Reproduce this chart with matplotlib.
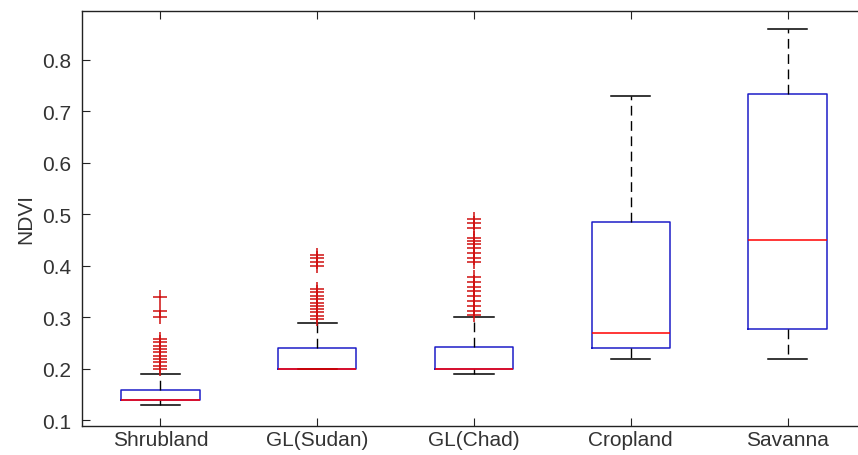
import matplotlib
matplotlib.use("Agg")
import matplotlib.pyplot as plt

plt.rcParams['font.family'] = ['Liberation Sans', 'DejaVu Sans']

classes = ["Shrubland", "GL(Sudan)", "GL(Chad)", "Cropland", "Savanna"]

# box stats
medians = [0.14, 0.20, 0.20, 0.27, 0.45]
q1 = [0.14, 0.20, 0.20, 0.24, 0.278]
q3 = [0.16, 0.24, 0.242, 0.485, 0.733]
whisk_lo = [0.13, 0.20, 0.19, 0.22, 0.22]
whisk_hi = [0.19, 0.29, 0.30, 0.73, 0.86]

fliers_shrub = [0.34, 0.312, 0.30, 0.258, 0.252, 0.245, 0.239, 0.232,
                0.226, 0.219, 0.213, 0.206, 0.20]
fliers_sudan = [0.422, 0.415, 0.408, 0.40, 0.355, 0.349, 0.342, 0.336,
                0.329, 0.323, 0.316, 0.31, 0.303, 0.297]
fliers_chad = [0.492, 0.483, 0.474, 0.455, 0.449, 0.443, 0.434, 0.425,
               0.416, 0.407, 0.378, 0.369, 0.36, 0.351, 0.341, 0.332,
               0.323, 0.313, 0.305]
fliers = [fliers_shrub, fliers_sudan, fliers_chad, [], []]

stats = []
for i, name in enumerate(classes):
    stats.append({
        'label': name, 'med': medians[i], 'q1': q1[i], 'q3': q3[i],
        'whislo': whisk_lo[i], 'whishi': whisk_hi[i], 'fliers': fliers[i],
    })

fig = plt.figure(figsize=(8.58, 4.56), dpi=100)
ax = fig.add_axes([0.0956, 0.0636, 0.9137, 0.9101])

blue = '#1c1cc8'
ax.bxp(stats, widths=0.5, showfliers=True,
       boxprops=dict(color=blue, linewidth=1.1),
       medianprops=dict(color='red', linewidth=1.1),
       whiskerprops=dict(color='black', linewidth=1.0, linestyle=(0, (7, 4))),
       capprops=dict(color='black', linewidth=1.1),
       capwidths=0.25,
       flierprops=dict(marker='+', markeredgecolor='#d01010', markersize=9.5,
                       markeredgewidth=1.1, linestyle='none'))

ax.set_xlim(0.5, 5.5)
ax.set_ylim(0.0893, 0.895)
ax.set_yticks([0.1, 0.2, 0.3, 0.4, 0.5, 0.6, 0.7, 0.8])
ax.set_yticklabels(["0.1", "0.2", "0.3", "0.4", "0.5", "0.6", "0.7", "0.8"])
ax.tick_params(direction='in', length=6, labelsize=15, colors='#222222',
               top=True, right=True, labelcolor='#333333')
ax.tick_params(axis='x', pad=3)
ax.tick_params(axis='y', pad=8)
ax.set_ylabel("NDVI", fontsize=15, color='#333333', labelpad=5)
for s in ax.spines.values():
    s.set_color('#222222')
    s.set_linewidth(1.0)

fig.savefig("out.png", dpi=100)
